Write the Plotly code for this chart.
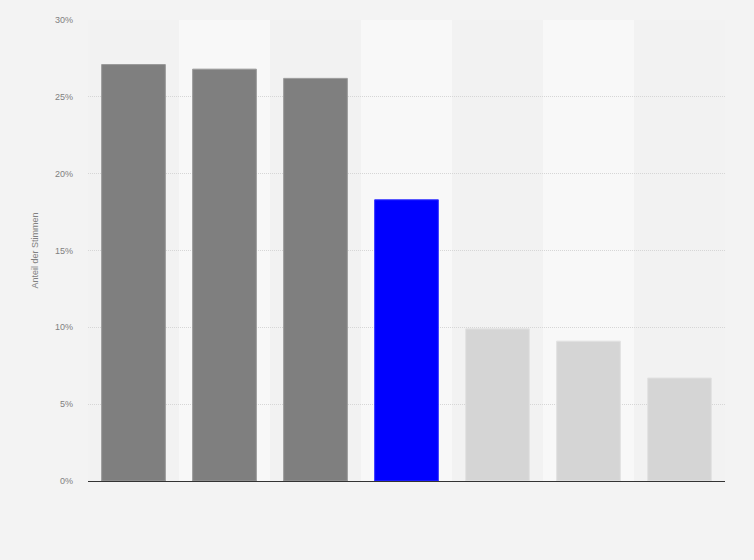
import plotly.graph_objects as go

# values (share of votes, %)
parties = ['P1', 'P2', 'P3', 'P4', 'P5', 'P6', 'P7']
shares = [27.1, 26.8, 26.2, 18.3, 9.9, 9.1, 6.7]
bar_colors = ['#7f7f7f', '#7f7f7f', '#7f7f7f', '#0000ff', '#d5d5d5', '#d5d5d5', '#d5d5d5']
line_colors = ['#9a9a9a', '#9a9a9a', '#9a9a9a', '#3333ff', '#e2e2e2', '#e2e2e2', '#e2e2e2']
y_ticks = [0, 5, 10, 15, 20, 25, 30]

fig = go.Figure()
fig.add_trace(go.Bar(
    x=parties, y=shares,
    marker=dict(color=bar_colors, line=dict(color=line_colors, width=1)),
    hoverinfo='x+y',
))

# lighter bands behind every second column
shapes = []
for i in range(1, len(parties), 2):
    shapes.append(dict(type='rect', xref='x', yref='paper',
                       x0=i - 0.5, x1=i + 0.5, y0=0, y1=1,
                       fillcolor='#f8f8f8', line=dict(width=0), layer='below'))

fig.update_layout(
    width=754, height=560,
    margin=dict(l=88, r=29, t=20, b=79),
    paper_bgcolor='#f3f3f3', plot_bgcolor='#f2f2f2',
    font=dict(family='Arial, Liberation Sans, sans-serif', size=9, color='#808080'),
    bargap=0.3,
    showlegend=False,
    shapes=shapes,
    xaxis=dict(showticklabels=False, ticks='', showgrid=False,
               showline=True, linecolor='#333333', linewidth=1.2,
               range=[-0.5, len(parties) - 0.5]),
    yaxis=dict(range=[0, 30], tickvals=y_ticks,
               ticktext=['{}%'.format(v) for v in y_ticks],
               showgrid=True, gridcolor='#d6d6d6', griddash='1px,1px', gridwidth=1,
               zeroline=False, ticks='', ticklabelstandoff=14,
               title=dict(text='Anteil der Stimmen', font=dict(size=9, color='#808080'),
                          standoff=14)),
)

fig.write_html('out.html', config={'displayModeBar': False},
               post_script="document.body.style.margin='0';")
